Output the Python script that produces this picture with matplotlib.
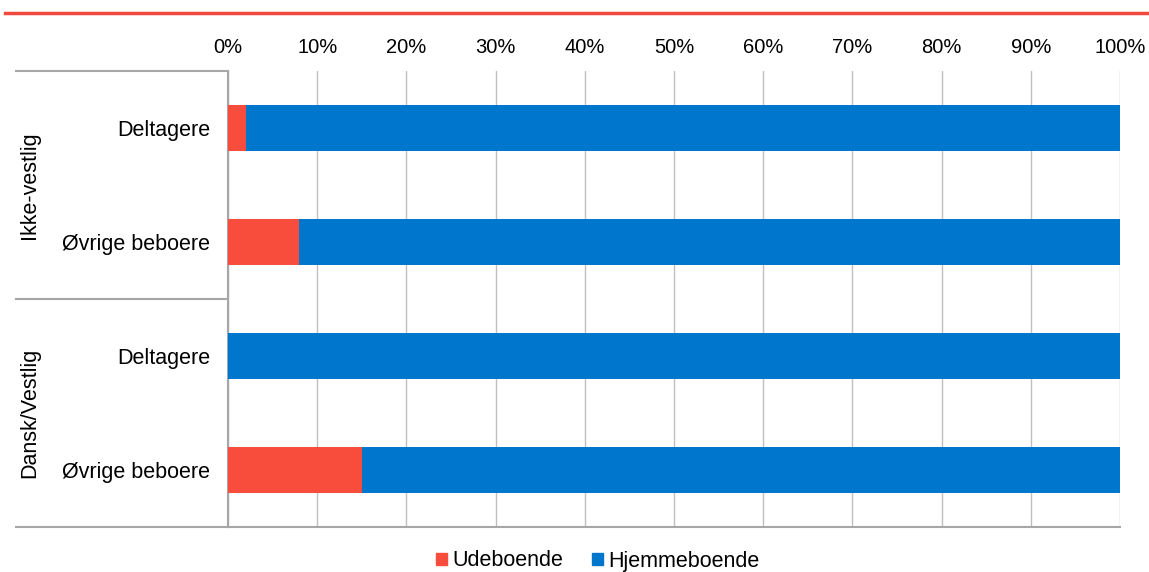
import matplotlib.pyplot as plt
from matplotlib.lines import Line2D
from matplotlib.patches import Patch

plt.rcParams['font.family'] = ['Liberation Sans', 'DejaVu Sans']

categories = ['Deltagere', 'Øvrige beboere', 'Deltagere', 'Øvrige beboere']
groups = ['Ikke-vestlig', 'Dansk/Vestlig']
udeboende = [2, 8, 0, 15]
hjemmeboende = [98, 92, 100, 85]
ticks = [0, 10, 20, 30, 40, 50, 60, 70, 80, 90, 100]

red = '#F84C3C'
blue = '#0077CC'
grid_col = '#BFBFBF'
axis_col = '#A6A6A6'
fs = 15.5

W, H = 1149, 572
fig = plt.figure(figsize=(W / 100, H / 100), dpi=100)
x0, x1, y_top, y_bot = 228, 1120, 71, 527
ax = fig.add_axes([x0 / W, 1 - y_bot / H, (x1 - x0) / W, (y_bot - y_top) / H])

pos = list(range(len(categories)))
ax.barh(pos, udeboende, height=0.4, color=red, zorder=3)
ax.barh(pos, hjemmeboende, left=udeboende, height=0.4, color=blue, zorder=3)

ax.set_xlim(0, 100)
ax.set_ylim(len(categories) - 0.5, -0.5)
ax.set_xticks(ticks)
ax.set_xticklabels([f'{t}%' for t in ticks])
ax.xaxis.tick_top()
ax.tick_params(axis='x', length=0, pad=10, labelsize=14.5, colors='black')
ax.set_yticks(pos)
ax.set_yticklabels(categories)
ax.tick_params(axis='y', length=0, pad=13, labelsize=fs)
ax.grid(axis='x', color=grid_col, linewidth=1, zorder=0)

for s in ['top', 'right']:
    ax.spines[s].set_visible(False)
ax.spines['left'].set_color(axis_col)
ax.spines['left'].set_linewidth(1.5)
ax.spines['bottom'].set_color(axis_col)
ax.spines['bottom'].set_linewidth(1.5)

# group dividers on the left
left_ext = (16 - x0) / (x1 - x0)
for yy in [1.0, 0.5, 0.0]:
    ax.add_line(Line2D([left_ext, 0], [yy, yy], transform=ax.transAxes,
                       color=axis_col, linewidth=1.5, clip_on=False))

label_x = (30 - x0) / (x1 - x0)
for i, g in enumerate(groups):
    ax.text(label_x, 1 - (0.25 + 0.5 * i), g, transform=ax.transAxes,
            rotation=90, ha='center', va='center', fontsize=fs)

# red line at the top
fig.add_artist(Line2D([5 / W, 1], [1 - 13 / H, 1 - 13 / H], color='#F04A3C',
                      linewidth=2.5))

handles = [Patch(color=red, label='Udeboende'), Patch(color=blue, label='Hjemmeboende')]
fig.legend(handles=handles, loc='center', bbox_to_anchor=(598 / W, 1 - 561 / H),
           ncol=2, frameon=False, fontsize=fs, handlelength=0.5, handleheight=0.5,
           handletextpad=0.25, columnspacing=1.35, borderpad=0)

fig.savefig('out.png', dpi=100)
